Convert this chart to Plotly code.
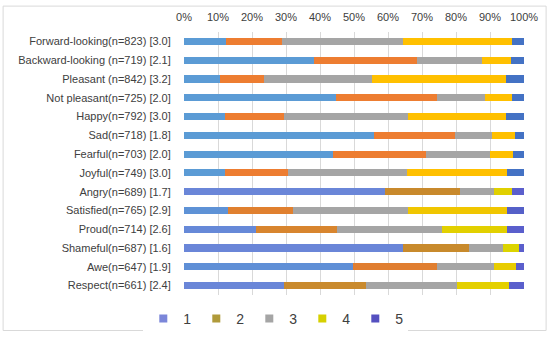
import plotly.graph_objects as go

categories = [
    "Forward-looking(n=823) [3.0]",
    "Backward-looking (n=719) [2.1]",
    "Pleasant (n=842) [3.2]",
    "Not pleasant(n=725) [2.0]",
    "Happy(n=792) [3.0]",
    "Sad(n=718) [1.8]",
    "Fearful(n=703) [2.0]",
    "Joyful(n=749) [3.0]",
    "Angry(n=689) [1.7]",
    "Satisfied(n=765) [2.9]",
    "Proud(n=714) [2.6]",
    "Shameful(n=687) [1.6]",
    "Awe(n=647) [1.9]",
    "Respect(n=661) [2.4]",
]

series_names = ["1", "2", "3", "4", "5"]

s1 = [12.4, 38.2, 10.7, 44.7, 12.1, 56.0, 43.8, 12.1, 59.2, 12.9, 21.2, 64.3, 49.6, 29.5]
s2 = [16.5, 30.3, 12.8, 29.6, 17.3, 23.6, 27.4, 18.4, 22.0, 19.3, 23.9, 19.6, 24.7, 23.9]
s3 = [35.4, 19.1, 31.9, 14.2, 36.5, 11.0, 18.7, 35.0, 10.1, 33.7, 30.7, 9.8, 17.0, 26.8]
s4 = [32.2, 8.5, 39.2, 8.0, 28.9, 6.8, 6.8, 29.6, 5.3, 29.0, 19.3, 4.8, 6.3, 15.5]
s5 = [3.5, 3.9, 5.4, 3.5, 5.2, 2.6, 3.3, 4.9, 3.4, 5.1, 4.9, 1.5, 2.4, 4.3]

x_tickvals = [0, 10, 20, 30, 40, 50, 60, 70, 80, 90, 100]
x_ticktext = ["0%", "10%", "20%", "30%", "40%", "50%", "60%", "70%", "80%", "90%", "100%"]

# styles
office = ["#5B9BD5", "#ED7D31", "#A5A5A5", "#FFC000", "#4472C4"]
row_palettes = [office] * 8 + [
    ["#6a86d8", "#c8892c", "#A5A5A5", "#e0d000", "#5b5fcc"],
    ["#5e92d6", "#e0802f", "#A5A5A5", "#f0c600", "#5560c8"],
    ["#6689d8", "#d8852e", "#A5A5A5", "#e2d000", "#5a5fcc"],
    ["#6a86d8", "#c88a2c", "#A5A5A5", "#dcd400", "#5b5fcc"],
    ["#5f8fd6", "#e07e30", "#A5A5A5", "#e8cc00", "#5b5fcc"],
    ["#6a86d8", "#c98a2e", "#A5A5A5", "#e4d000", "#5a5fcc"],
]
legend_colors = ["#7b86d9", "#b09a3a", "#A5A5A5", "#d6d000", "#5550c0"]

FONT = "Liberation Sans"
TXT = "#404040"

fig = go.Figure()
all_series = [s1, s2, s3, s4, s5]
for i, (name, vals) in enumerate(zip(series_names, all_series)):
    fig.add_trace(go.Bar(
        y=categories, x=vals, orientation="h", name=name,
        marker=dict(color=[p[i] for p in row_palettes], line=dict(width=0)),
        width=0.38, showlegend=False,
    ))
for i, name in enumerate(series_names):
    fig.add_trace(go.Scatter(
        x=[None], y=[None], mode="markers", name=name,
        marker=dict(symbol="square", size=8, color=legend_colors[i]),
        showlegend=True,
    ))

fig.update_layout(
    barmode="stack",
    width=550, height=347,
    margin=dict(l=184, r=26, t=32, b=41),
    paper_bgcolor="white", plot_bgcolor="white",
    font=dict(family=FONT, size=11, color=TXT),
    xaxis=dict(
        side="top", range=[0, 100], tickvals=x_tickvals, ticktext=x_ticktext,
        showgrid=True, gridcolor="#d9d9d9", gridwidth=1, zeroline=False,
        ticks="outside", ticklen=6, tickcolor="rgba(0,0,0,0)",
        tickfont=dict(family=FONT, size=11, color=TXT), showline=False,
        fixedrange=True,
    ),
    yaxis=dict(
        autorange="reversed", showgrid=False, zeroline=False, showline=False,
        ticks="outside", ticklen=10, tickcolor="rgba(0,0,0,0)",
        tickfont=dict(family=FONT, size=11, color=TXT),
    ),
    legend=dict(
        orientation="h", x=0.27, xanchor="center", y=-0.03, yanchor="top",
        font=dict(family=FONT, size=14, color=TXT), traceorder="normal",
        itemwidth=30,
    ),
    shapes=[dict(
        type="rect", xref="paper", yref="paper",
        x0=-0.532, x1=1.065, y0=-0.135, y1=1.0985,
        line=dict(color="#d9d9d9", width=1), fillcolor="rgba(0,0,0,0)",
        layer="below",
    )],
)

fig.write_html(
    "out.html",
    config={"displayModeBar": False},
    post_script="document.body.style.margin='0';document.body.style.overflow='hidden';",
)
